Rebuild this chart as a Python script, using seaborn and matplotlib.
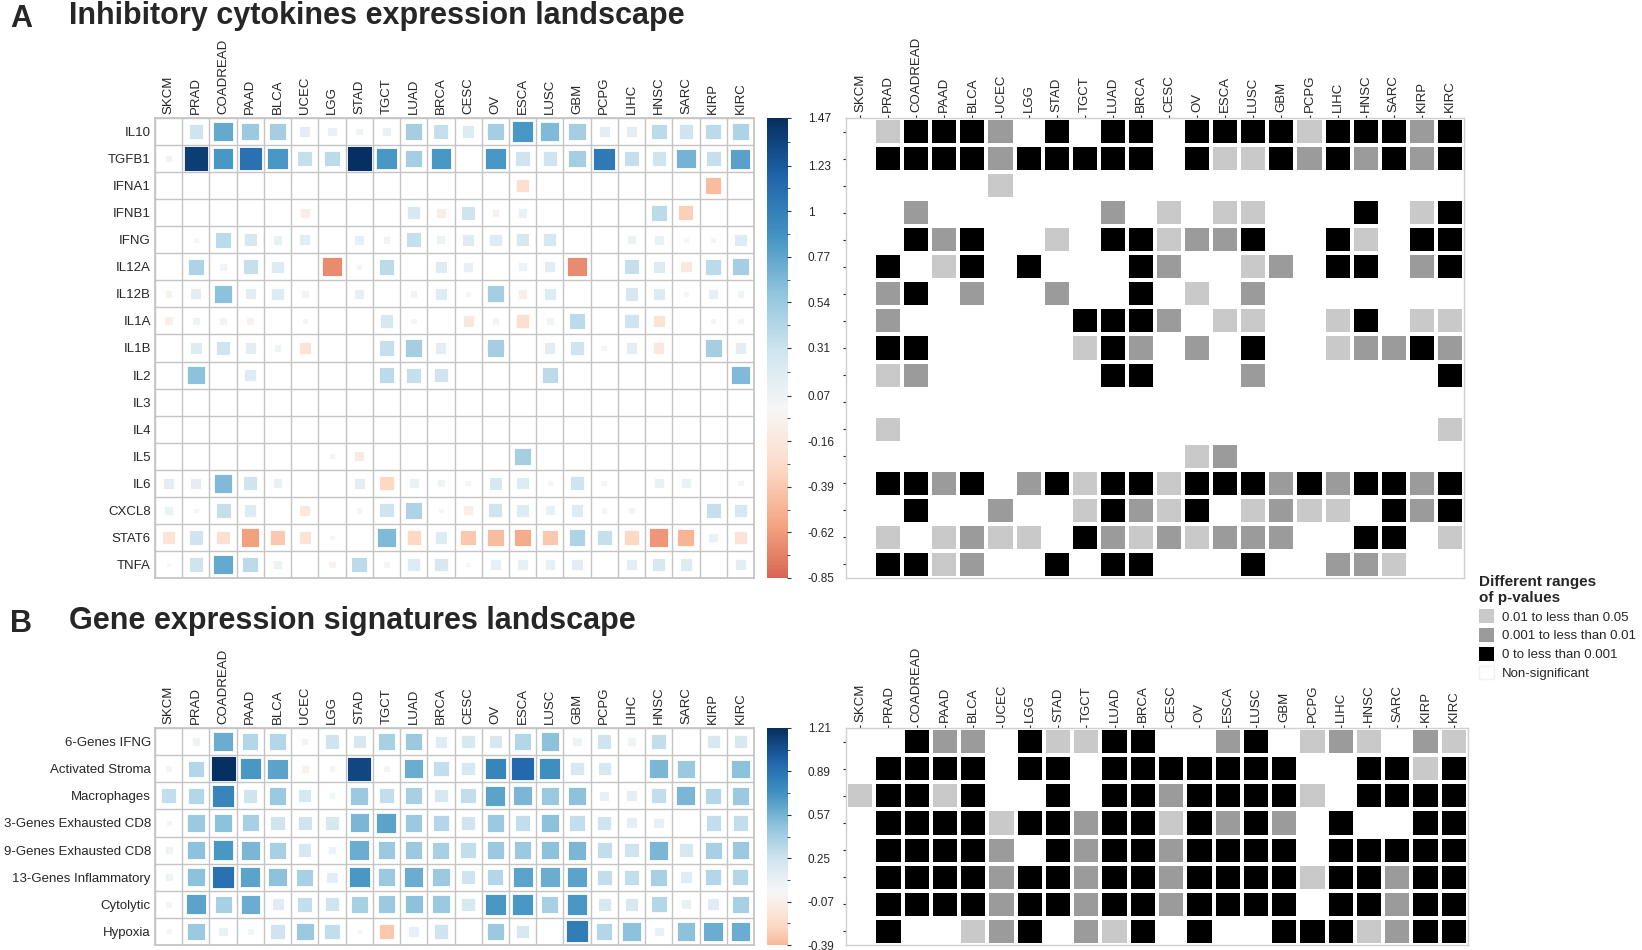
import numpy as np
import pandas as pd
import matplotlib
matplotlib.use("Agg")
import matplotlib.pyplot as plt
import seaborn as sns
from matplotlib.colors import ListedColormap, Normalize
from matplotlib.patches import Patch

sns.set_theme(style="white")
plt.rcParams['font.family'] = ['Liberation Sans', 'DejaVu Sans']

cancers = ['SKCM', 'PRAD', 'COADREAD', 'PAAD', 'BLCA', 'UCEC', 'LGG', 'STAD', 'TGCT', 'LUAD', 'BRCA',
           'CESC', 'OV', 'ESCA', 'LUSC', 'GBM', 'PCPG', 'LIHC', 'HNSC', 'SARC', 'KIRP', 'KIRC']

cyto_rows = ['IL10', 'TGFB1', 'IFNA1', 'IFNB1', 'IFNG', 'IL12A', 'IL12B', 'IL1A', 'IL1B', 'IL2',
             'IL3', 'IL4', 'IL5', 'IL6', 'CXCL8', 'STAT6', 'TNFA']

# expression differences (size + colour of squares)
cyto_vals = [
    [0, 0.30, 0.75, 0.55, 0.50, 0.15, 0.10, 0.05, 0.10, 0.50, 0.35, 0.20, 0.50, 0.85, 0.65, 0.50, 0.15, 0.15, 0.40, 0.30, 0.40, 0.45],
    [0.05, 1.40, 0.85, 1.10, 0.85, 0.35, 0.40, 1.47, 0.85, 0.50, 0.85, 0, 0.85, 0.30, 0.30, 0.50, 1.05, 0.35, 0.30, 0.70, 0.35, 0.80],
    [0, 0, 0, 0, 0, 0, 0, 0, 0, 0, 0, 0, 0, -0.25, 0, 0, 0, 0, 0, 0, -0.45, 0],
    [0, 0, 0, 0, 0, -0.10, 0, 0, 0, 0.25, -0.10, 0.30, -0.05, 0.10, 0, 0, 0, 0, 0.40, -0.35, 0, 0],
    [0, 0.02, 0.40, 0.25, 0.10, 0.15, 0, 0.12, 0.05, 0.35, 0.08, 0.20, 0.20, 0.25, 0.25, 0, 0, 0.08, 0.10, 0.02, 0.03, 0.20],
    [0, 0.45, 0.05, 0.35, 0.20, 0, -0.70, 0.03, 0.40, 0, 0.20, 0.12, 0, 0.08, 0.15, -0.70, 0, 0.35, 0.20, -0.15, 0.40, 0.50],
    [-0.05, 0.15, 0.60, 0.15, 0.20, 0.05, 0, 0.12, 0, 0.05, 0.20, 0.03, 0.50, -0.10, 0.20, 0, 0, 0.25, 0.20, 0.02, 0.12, 0.05],
    [-0.08, 0.05, 0.05, -0.05, 0, -0.02, 0, 0, 0.25, 0.03, 0, -0.15, 0.05, -0.25, 0.05, 0.40, 0, 0.30, -0.20, 0, 0.03, 0.03],
    [0, 0.20, 0.30, 0.15, 0.05, -0.20, 0, 0, 0.35, 0.50, 0.15, 0, 0.50, 0, 0.15, 0.30, 0.03, 0.15, -0.15, 0, 0.50, 0.15],
    [0, 0.60, 0, 0.20, 0, 0, 0, 0, 0.40, 0.35, 0.30, 0, 0, 0, 0.40, 0, 0, 0, 0, 0, 0, 0.65],
    [0] * 22,
    [0] * 22,
    [0, 0, 0, 0, 0, 0, -0.02, -0.12, 0, 0, 0, 0, 0, 0.50, 0, 0, 0, 0, 0, 0, 0, 0],
    [0.15, 0.15, 0.65, 0.30, 0.10, 0, 0, 0.15, -0.30, 0.10, 0.05, 0.03, 0.25, 0.20, 0.03, 0.30, 0.03, 0, 0.10, 0.10, 0, 0.03],
    [0.08, 0.02, 0.35, 0.20, 0, -0.15, 0, 0.03, 0.30, 0.45, 0.02, -0.10, 0.30, 0.20, 0.10, 0.20, 0.03, 0.05, 0, 0, 0.35, 0.25],
    [-0.20, 0.30, -0.25, -0.60, -0.40, -0.20, 0.02, 0, 0.65, -0.30, 0.20, -0.40, -0.45, -0.55, -0.40, 0.45, 0.35, -0.30, -0.65, -0.50, 0.10, -0.20],
    [0.02, 0.30, 0.75, 0.40, 0.08, 0, -0.05, 0.40, 0.03, 0.20, 0.25, 0.02, 0.12, 0.12, 0.12, 0.15, 0, 0.15, 0.25, 0.20, 0, 0.15],
]

# p-value class: 0 non-significant, 1 0.01-0.05, 2 0.001-0.01, 3 <0.001
cyto_p = [
    [0, 1, 3, 3, 3, 2, 0, 3, 0, 3, 3, 0, 3, 3, 3, 3, 1, 3, 3, 3, 2, 3],
    [0, 3, 3, 3, 3, 2, 3, 3, 3, 3, 3, 0, 3, 1, 1, 3, 2, 3, 2, 3, 2, 3],
    [0, 0, 0, 0, 0, 1, 0, 0, 0, 0, 0, 0, 0, 0, 0, 0, 0, 0, 0, 0, 0, 0],
    [0, 0, 2, 0, 0, 0, 0, 0, 0, 2, 0, 1, 0, 1, 1, 0, 0, 0, 3, 0, 1, 3],
    [0, 0, 3, 2, 3, 0, 0, 1, 0, 3, 3, 1, 2, 2, 3, 0, 0, 3, 1, 0, 3, 3],
    [0, 3, 0, 1, 3, 0, 3, 0, 0, 0, 3, 2, 0, 0, 1, 2, 0, 3, 3, 0, 2, 3],
    [0, 2, 3, 0, 2, 0, 0, 2, 0, 0, 3, 0, 1, 0, 2, 0, 0, 0, 0, 0, 0, 0],
    [0, 2, 0, 0, 0, 0, 0, 0, 3, 3, 3, 2, 0, 1, 1, 0, 0, 1, 3, 0, 1, 1],
    [0, 3, 3, 0, 0, 0, 0, 0, 1, 3, 2, 0, 2, 0, 3, 0, 0, 1, 2, 2, 3, 2],
    [0, 1, 2, 0, 0, 0, 0, 0, 0, 3, 3, 0, 0, 0, 2, 0, 0, 0, 0, 0, 0, 3],
    [0] * 22,
    [0, 1, 0, 0, 0, 0, 0, 0, 0, 0, 0, 0, 0, 0, 0, 0, 0, 0, 0, 0, 0, 1],
    [0, 0, 0, 0, 0, 0, 0, 0, 0, 0, 0, 0, 1, 2, 0, 0, 0, 0, 0, 0, 0, 0],
    [0, 3, 3, 2, 3, 0, 2, 3, 1, 3, 3, 1, 3, 3, 3, 2, 3, 2, 3, 3, 2, 3],
    [0, 0, 3, 0, 0, 2, 0, 0, 1, 3, 2, 1, 3, 0, 1, 2, 1, 1, 0, 3, 2, 3],
    [0, 1, 0, 1, 2, 1, 1, 0, 3, 2, 1, 2, 1, 2, 2, 2, 0, 0, 3, 3, 0, 1],
    [0, 3, 3, 1, 2, 0, 0, 3, 0, 3, 3, 0, 0, 0, 3, 0, 0, 2, 2, 1, 0, 0],
]

sig_rows = ['6-Genes IFNG', 'Activated Stroma', 'Macrophages', '3-Genes Exhausted CD8',
            '9-Genes Exhausted CD8', '13-Genes Inflammatory', 'Cytolytic', 'Hypoxia']

sig_vals = [
    [0, 0.05, 0.60, 0.35, 0.35, 0.03, 0.25, 0.20, 0.40, 0.45, 0.15, 0.20, 0.20, 0.35, 0.50, 0.07, 0.25, 0.05, 0.30, 0, 0.20, 0.20],
    [0.03, 0.35, 1.21, 0.70, 0.65, -0.05, -0.03, 1.10, 0.03, 0.60, 0.30, 0.20, 0.80, 0.95, 0.75, 0.20, 0.20, 0, 0.55, 0.45, 0, 0.50],
    [0.30, 0.35, 0.80, 0.25, 0.45, 0.20, 0.03, 0.45, 0.30, 0.40, 0.20, 0.30, 0.65, 0.55, 0.45, 0.50, 0.10, 0.12, 0.30, 0.55, 0.35, 0.45],
    [-0.02, 0.45, 0.50, 0.40, 0.25, 0.25, 0.20, 0.55, 0.65, 0.45, 0.35, 0.25, 0.45, 0.30, 0.50, 0.30, 0.25, 0.12, 0.10, 0, 0.30, 0.30],
    [0.05, 0.50, 0.70, 0.55, 0.40, 0.20, 0.05, 0.60, 0.45, 0.45, 0.40, 0.30, 0.45, 0.45, 0.50, 0.55, 0.30, 0.25, 0.55, 0.20, 0.40, 0.45],
    [0.05, 0.50, 0.90, 0.65, 0.50, 0.40, 0.12, 0.70, 0.45, 0.60, 0.45, 0.25, 0.35, 0.65, 0.60, 0.65, 0.30, 0.30, 0.40, 0.15, 0.35, 0.35],
    [0.03, 0.65, 0.40, 0.60, 0.15, 0.30, 0.25, 0.40, 0.45, 0.50, 0.45, 0.20, 0.70, 0.70, 0.40, 0.70, 0.20, 0.20, 0.35, 0.08, 0.15, 0.40],
    [0.02, 0.45, 0.08, 0.03, 0.25, 0.45, 0.30, 0.01, -0.33, 0.10, 0.25, 0, 0.45, 0.20, 0, 0.85, 0.35, 0.50, 0.08, 0.50, 0.60, 0.60],
]

sig_p = [
    [0, 0, 3, 2, 2, 0, 3, 1, 1, 3, 3, 0, 0, 2, 3, 0, 1, 2, 1, 0, 2, 1],
    [0, 3, 3, 3, 3, 0, 3, 3, 0, 3, 3, 3, 3, 3, 3, 3, 0, 0, 3, 3, 1, 3],
    [1, 3, 3, 1, 3, 0, 0, 3, 0, 3, 3, 2, 3, 3, 3, 3, 1, 0, 3, 3, 3, 3],
    [0, 3, 3, 3, 3, 1, 3, 3, 2, 3, 3, 1, 3, 2, 3, 2, 0, 3, 0, 0, 3, 3],
    [0, 3, 3, 3, 3, 2, 0, 3, 2, 3, 3, 2, 3, 3, 3, 3, 0, 3, 3, 3, 3, 3],
    [0, 3, 3, 3, 3, 2, 3, 3, 2, 3, 3, 2, 3, 3, 3, 3, 1, 3, 3, 2, 3, 3],
    [0, 3, 3, 3, 3, 2, 3, 3, 2, 3, 3, 2, 3, 3, 3, 3, 0, 3, 3, 2, 3, 3],
    [0, 3, 0, 0, 1, 2, 3, 0, 2, 1, 3, 0, 3, 0, 0, 3, 3, 3, 1, 2, 3, 3],
]

cyto_ticks = [1.47, 1.23, 1, 0.77, 0.54, 0.31, 0.07, -0.16, -0.39, -0.62, -0.85]
sig_ticks = [1.21, 0.89, 0.57, 0.25, -0.07, -0.39]

p_colors = ['white', '#c9c9c9', '#9b9b9b', 'black']
p_labels = ['0.01 to less than 0.05', '0.001 to less than 0.01', '0 to less than 0.001', 'Non-significant']

W, H = 1642, 950
fig = plt.figure(figsize=(W / 100, H / 100), dpi=100)


def box(x0, y0, x1, y1):
    return fig.add_axes([x0 / W, 1 - y1 / H, (x1 - x0) / W, (y1 - y0) / H])


def squares(ax, vals, rows, vmax):
    df = pd.DataFrame(vals, index=rows, columns=cancers).stack().reset_index()
    df.columns = ['row', 'col', 'val']
    df['x'] = df['col'].map({c: i for i, c in enumerate(cancers)})
    df['y'] = df['row'].map({r: i for i, r in enumerate(rows)})
    # square area grows a bit slower than the value
    df['area'] = df['val'].abs() ** 0.7
    bb = ax.get_position()
    cell = min(bb.width * W / len(cancers), bb.height * H / len(rows)) * 0.72
    smax = (cell * 0.92) ** 2
    sns.scatterplot(data=df, x='x', y='y', hue='val', palette='RdBu',
                    hue_norm=Normalize(-vmax, vmax), size='area', sizes=(0, smax),
                    size_norm=(0, vmax ** 0.7), marker='s', edgecolor='white', linewidth=0.6,
                    legend=False, ax=ax)
    ax.set_xlim(-0.5, len(cancers) - 0.5)
    ax.set_ylim(len(rows) - 0.5, -0.5)
    ax.set_xticks(range(len(cancers)))
    ax.set_xticklabels(cancers, rotation=90, fontsize=9.5)
    ax.set_yticks(range(len(rows)))
    ax.set_yticklabels(rows, fontsize=9.5)
    ax.set_xticks(np.arange(-0.5, len(cancers)), minor=True)
    ax.set_yticks(np.arange(-0.5, len(rows)), minor=True)
    ax.grid(which='minor', color='#c4c4c4', linewidth=1)
    ax.grid(which='major', visible=False)
    ax.xaxis.set_ticks_position('top')
    ax.tick_params(which='both', length=0, pad=3)
    ax.set_xlabel('')
    ax.set_ylabel('')
    for s in ax.spines.values():
        s.set_color('#c4c4c4')
    ax.set_axisbelow(True)


def colorbar(ax, vmin, vmax, vabs, ticks):
    grad = np.linspace(vmin, vmax, 300)[:, None]
    ax.imshow(grad, aspect='auto', cmap='RdBu', norm=Normalize(-vabs, vabs),
              origin='lower', extent=[0, 1, vmin, vmax])
    ax.set_xticks([])
    ax.yaxis.tick_right()
    ax.set_yticks(ticks)
    ax.set_yticklabels([f'{t:g}' for t in ticks], fontsize=8.5)
    mids = [(a + b) / 2 for a, b in zip(ticks[:-1], ticks[1:])]
    ax.set_yticks(mids, minor=True)
    ax.tick_params(axis='y', which='major', length=3, width=0.8, pad=12, right=True, color='#333333')
    ax.tick_params(axis='y', which='minor', length=2, width=0.6, right=True, color='#333333')
    for s in ax.spines.values():
        s.set_visible(False)


def pgrid(ax, pvals, rows):
    df = pd.DataFrame(pvals, index=rows, columns=cancers)
    sns.heatmap(df, cmap=ListedColormap(p_colors), vmin=-0.5, vmax=3.5, linewidths=1.6,
                linecolor='white', cbar=False, ax=ax)
    ax.xaxis.tick_top()
    ax.set_xticks(np.arange(len(cancers)) + 0.5)
    ax.set_xticklabels(cancers, rotation=90, fontsize=9.5)
    ax.set_yticks(np.arange(len(rows)) + 0.5)
    ax.set_yticklabels([])
    ax.tick_params(axis='x', top=True, bottom=False, length=2, width=0.8, pad=2)
    ax.tick_params(axis='y', left=True, length=2, width=0.8)
    ax.set_xlabel('')
    ax.set_ylabel('')
    for s in ax.spines.values():
        s.set_visible(True)
        s.set_color('#d0d0d0')
        s.set_linewidth(1)


# panel A
ax1 = box(155, 118, 754, 578)
squares(ax1, cyto_vals, cyto_rows, 1.47)
cb1 = box(767, 118, 787, 578)
colorbar(cb1, -0.85, 1.47, 1.47, cyto_ticks)
ax2 = box(846, 118, 1464, 578)
pgrid(ax2, cyto_p, cyto_rows)

# panel B
ax3 = box(155, 728, 754, 945)
squares(ax3, sig_vals, sig_rows, 1.21)
cb2 = box(767, 728, 787, 945)
colorbar(cb2, -0.39, 1.21, 1.21, sig_ticks)
ax4 = box(846, 728, 1468, 945)
pgrid(ax4, sig_p, sig_rows)

tfont = ['Liberation Sans Narrow', 'Liberation Sans', 'DejaVu Sans']
fig.text(10 / W, 1 - 19 / H, 'A', fontsize=22, fontweight='bold', va='center', family=tfont)
fig.text(69 / W, 1 - 16 / H, 'Inhibitory cytokines expression landscape', fontsize=22,
         fontweight='bold', va='center', family=tfont)
fig.text(10 / W, 1 - 624 / H, 'B', fontsize=22, fontweight='bold', va='center', family=tfont)
fig.text(69 / W, 1 - 621 / H, 'Gene expression signatures landscape', fontsize=22,
         fontweight='bold', va='center', family=tfont)

handles = [Patch(facecolor=p_colors[1], edgecolor='none'),
           Patch(facecolor=p_colors[2], edgecolor='none'),
           Patch(facecolor=p_colors[3], edgecolor='none'),
           Patch(facecolor='white', edgecolor='#f2f2f2')]
fig.legend(handles, p_labels, title='Different ranges\nof p-values', loc='upper left',
           bbox_to_anchor=(1472 / W, 1 - 568 / H), frameon=False, fontsize=9.5,
           title_fontproperties={'weight': 'bold', 'size': 11}, alignment='left',
           handlelength=1.2, handleheight=1.2, handletextpad=0.6, labelspacing=0.35,
           borderpad=0)

fig.savefig('out.png', dpi=100)
